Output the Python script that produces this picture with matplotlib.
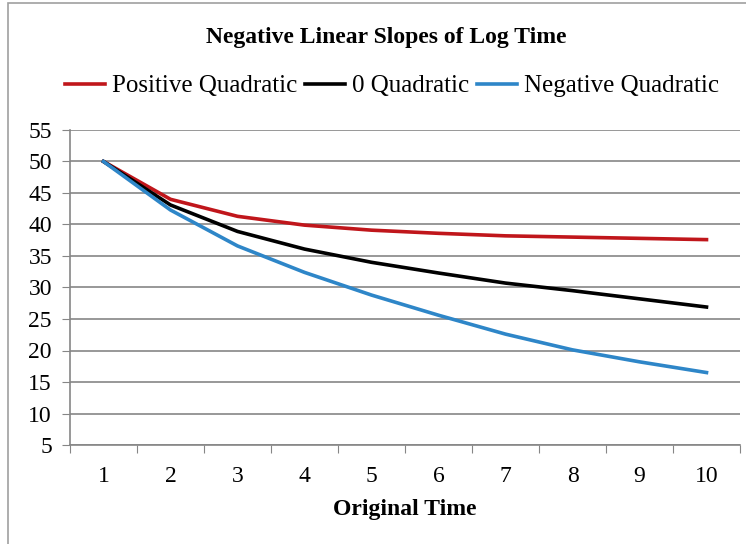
import matplotlib.pyplot as plt
from matplotlib.patches import Rectangle

plt.rcParams['font.family'] = ['Liberation Serif', 'DejaVu Serif']

time = [1, 2, 3, 4, 5, 6, 7, 8, 9, 10]
positive_quad = [50, 44.0, 41.3, 39.9, 39.1, 38.6, 38.2, 38.0, 37.8, 37.6]
zero_quad = [50, 43.1, 38.9, 36.1, 34.0, 32.3, 30.7, 29.5, 28.2, 26.9]
negative_quad = [50, 42.3, 36.6, 32.4, 28.8, 25.6, 22.6, 20.1, 18.2, 16.5]
yticks = [5, 10, 15, 20, 25, 30, 35, 40, 45, 50, 55]

W, H = 746, 544
fig = plt.figure(figsize=(W / 100, H / 100), dpi=100)
ax = fig.add_axes([70 / W, 1 - 445 / H, 670 / W, 315 / H])

# chart border like the excel frame
fig.patches.append(Rectangle((8 / W, -0.01), 1.0, 1 - 3 / H + 0.01,
                             transform=fig.transFigure, fill=False,
                             edgecolor='#a0a0a0', linewidth=1.2))

ax.plot(time, positive_quad, color='#c0161b', lw=2.6, label='Positive Quadratic')
ax.plot(time, zero_quad, color='black', lw=2.6, label='0 Quadratic')
ax.plot(time, negative_quad, color='#2e86c8', lw=2.6, label='Negative Quadratic')

ax.set_xlim(0.5, 10.5)
ax.set_ylim(5, 55)
ax.set_yticks(yticks)
ax.set_xticks([t - 0.5 for t in time] + [10.5])
ax.set_xticklabels([])
ax.set_xticks(time, minor=True)
ax.set_xticklabels([str(t) for t in time], minor=True)
ax.tick_params(axis='x', which='minor', length=0, pad=15, labelsize=17)
ax.tick_params(axis='x', which='major', length=6, color='#868686', direction='out')
ax.tick_params(axis='y', length=6, color='#868686', labelsize=17, pad=7)

ax.grid(axis='y', color='#868686', lw=1.2)
ax.set_axisbelow(True)
for s in ['top', 'right']:
    ax.spines[s].set_visible(False)
for s in ['left', 'bottom']:
    ax.spines[s].set_color('#868686')
    ax.spines[s].set_linewidth(1.2)

ax.set_xlabel('Original Time', fontsize=17, fontweight='bold', labelpad=9)

fig.text(386 / W, 1 - 38 / H, 'Negative Linear Slopes of Log Time',
         ha='center', va='center', fontsize=17, fontweight='bold')
fig.legend(loc='center', bbox_to_anchor=(392 / W, 1 - 86 / H), ncol=3,
           frameon=False, fontsize=18, handlelength=1.6, handletextpad=0.3,
           columnspacing=0.3)

fig.savefig('out.png', dpi=100)
